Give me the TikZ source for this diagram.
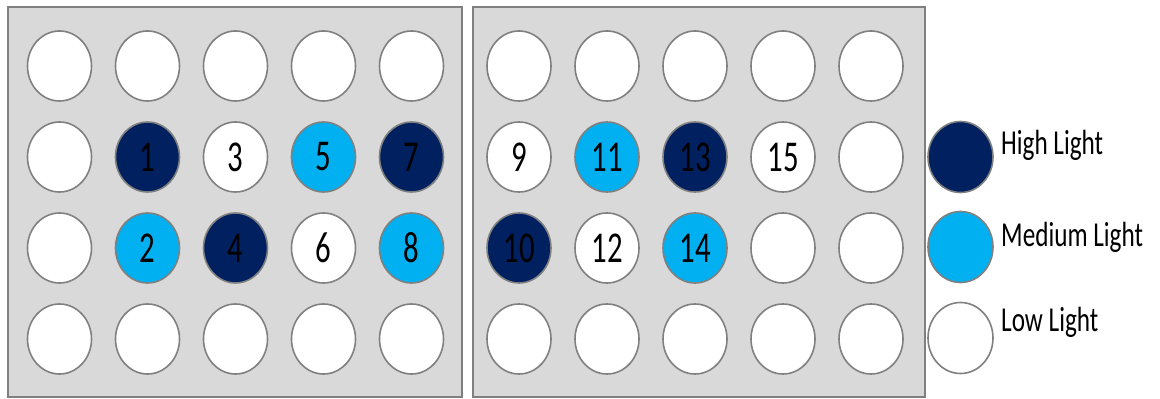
\documentclass[tikz,border=0pt]{standalone}
\usepackage{fontspec}
\usepackage{graphicx}
\setmainfont{Carlito}
\usetikzlibrary{shapes.geometric}
\definecolor{navy}{HTML}{002060}
\definecolor{sky}{HTML}{00B0F0}
\definecolor{platebg}{HTML}{D9D9D9}
\definecolor{rim}{HTML}{808080}
\tikzset{
  plate/.style={draw=rim, fill=platebg, line width=2pt},
  well/.style={ellipse, draw=rim, line width=1.6pt, minimum width=64pt, minimum height=70pt, inner sep=0pt, fill=white},
  hi/.style={well, fill=navy},
  med/.style={well, fill=sky},
  lo/.style={well, fill=white},
  legtext/.style={anchor=west, inner sep=0pt}
}
\newcommand{\wellnum}[1]{\scalebox{0.7}[1]{\fontsize{44}{44}\selectfont #1}}
\newcommand{\legnum}[1]{\scalebox{0.72}[1]{\fontsize{35}{35}\selectfont #1}}
\begin{document}
\begin{tikzpicture}[x=1pt,y=1pt]
\useasboundingbox (0,0) rectangle (1160,399);
\draw[plate] (8,2) rectangle (462,392);
\draw[plate] (473,2) rectangle (925,392);
% left plate
\foreach \c/\r/\s/\t in {
 0/0/lo/, 1/0/lo/, 2/0/lo/, 3/0/lo/, 4/0/lo/,
 0/1/lo/, 1/1/hi/1, 2/1/lo/3, 3/1/med/5, 4/1/hi/7,
 0/2/lo/, 1/2/med/2, 2/2/hi/4, 3/2/lo/6, 4/2/med/8,
 0/3/lo/, 1/3/lo/, 2/3/lo/, 3/3/lo/, 4/3/lo/}
  \node[\s] (L-\c-\r) at ({59.5+88*\c},{333-91*\r}) {\wellnum{\t}};
% right plate
\foreach \c/\r/\s/\t in {
 0/0/lo/, 1/0/lo/, 2/0/lo/, 3/0/lo/, 4/0/lo/,
 0/1/lo/9, 1/1/med/11, 2/1/hi/13, 3/1/lo/15, 4/1/lo/,
 0/2/hi/10, 1/2/lo/12, 2/2/med/14, 3/2/lo/, 4/2/lo/,
 0/3/lo/, 1/3/lo/, 2/3/lo/, 3/3/lo/, 4/3/lo/}
  \node[\s] (R-\c-\r) at ({519+88*\c},{333-91*\r}) {\wellnum{\t}};
% legend
\node[hi, minimum width=65pt, minimum height=71pt] (kh) at (960.5,242) {};
\node[med, minimum width=65pt, minimum height=71pt] (km) at (960.5,152) {};
\node[lo, minimum width=65pt, minimum height=71pt] (kl) at (960.5,61) {};
\node[legtext] (th) at (1001,254) {\legnum{High Light}};
\node[legtext] (tm) at (1001,162) {\legnum{Medium Light}};
\node[legtext] (tl) at (1001,77) {\legnum{Low Light}};
\end{tikzpicture}
\end{document}
